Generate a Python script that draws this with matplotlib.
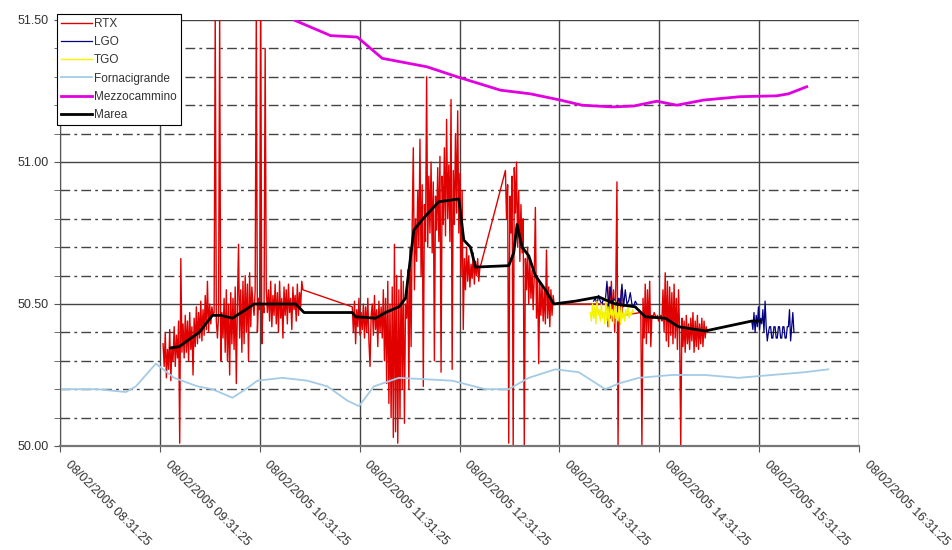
import numpy as np
import pandas as pd
import matplotlib
matplotlib.use('Agg')
import matplotlib.pyplot as plt
from matplotlib.ticker import MultipleLocator, FormatStrFormatter
from matplotlib.transforms import ScaledTranslation
import matplotlib.dates as mdates

plt.rcParams['font.family'] = ['Liberation Sans', 'DejaVu Sans']

DAY = '2005-02-08 '

# --- Marea (black) ---
marea_time = ['09:38', '09:43', '09:55', '10:03', '10:08', '10:15', '10:23', '10:28', '10:53', '10:58',
              '11:27', '11:29', '11:41', '11:47', '11:55', '11:59', '12:02', '12:04', '12:11', '12:19',
              '12:31', '12:34', '12:38', '12:41', '13:01', '13:04', '13:06', '13:09', '13:13', '13:17',
              '13:23', '13:28', '13:41', '13:55', '14:05', '14:17', '14:23', '14:35', '14:43', '14:59',
              '15:11', '15:27', '15:32']
marea_val = [50.345, 50.35, 50.40, 50.46, 50.46, 50.45, 50.48, 50.50, 50.50, 50.47,
             50.47, 50.455, 50.45, 50.47, 50.49, 50.52, 50.665, 50.76, 50.81, 50.86,
             50.87, 50.725, 50.70, 50.63, 50.635, 50.68, 50.78, 50.70, 50.67, 50.60,
             50.55, 50.50, 50.51, 50.525, 50.50, 50.49, 50.455, 50.45, 50.42, 50.405,
             50.42, 50.44, 50.44]

# --- Fornacigrande (light blue) ---
forn_time = ['08:32', '08:54', '09:11', '09:17', '09:29', '09:40', '09:54', '10:03', '10:15', '10:23',
             '10:30', '10:45', '11:00', '11:12', '11:24', '11:31', '11:40', '11:55', '12:27', '12:47',
             '13:01', '13:13', '13:29', '13:43', '13:59', '14:07', '14:19', '14:39', '14:59', '15:19',
             '15:39', '15:59', '16:13']
forn_val = [50.20, 50.20, 50.19, 50.21, 50.29, 50.24, 50.21, 50.20, 50.17, 50.20,
            50.23, 50.24, 50.23, 50.21, 50.16, 50.14, 50.21, 50.24, 50.23, 50.20,
            50.20, 50.24, 50.27, 50.26, 50.20, 50.22, 50.24, 50.25, 50.25, 50.24,
            50.25, 50.26, 50.27]

# --- Mezzocammino (magenta) ---
mezz_time = ['10:50', '10:52', '11:14', '11:30', '11:45', '12:12', '12:30', '12:56', '13:14', '13:32',
             '13:45', '14:03', '14:16', '14:30', '14:42', '14:58', '15:20', '15:42', '15:49', '16:00']
mezz_val = [51.53, 51.50, 51.445, 51.44, 51.365, 51.335, 51.30, 51.253, 51.24, 51.218,
            51.20, 51.194, 51.197, 51.214, 51.20, 51.218, 51.23, 51.233, 51.24, 51.265]

# --- RTX (red, sampled every 40 s) ---
rtx_a_start = '09:33:20'
rtx_a = [50.36, 50.28, 50.40, 50.24, 50.34, 50.27, 50.41, 50.23, 50.35,
         50.30, 50.42, 50.28, 50.39, 50.31, 50.44, 50.01, 50.66, 50.33,
         50.43, 50.31, 50.46, 50.33, 50.44, 50.30, 50.47, 50.34, 50.42,
         50.25, 50.45, 50.35, 50.49, 50.36, 50.47, 50.38, 50.51, 50.37,
         50.48, 50.39, 50.53, 50.41, 50.58, 50.40, 50.50, 50.43, 50.49,
         50.46, 50.47, 51.52, 50.44, 50.38, 50.46, 51.52, 50.30, 50.47,
         50.38, 50.52, 50.33, 50.55, 50.30, 50.50, 50.25, 50.54, 50.36,
         50.52, 50.34, 50.56, 50.22, 50.50, 50.71, 50.38, 50.55, 50.33,
         50.58, 50.36, 50.60, 50.40, 50.57, 50.30, 50.61, 50.42, 50.56,
         50.50, 50.46, 50.55, 51.52, 50.40, 50.52, 50.48, 51.52, 50.36, 50.50, 50.47, 51.40, 50.55,
         50.47, 50.55, 50.44, 50.58, 50.42, 50.53, 50.46, 50.57, 50.43,
         50.54, 50.40, 50.58, 50.45, 50.52, 50.38, 50.56, 50.46, 50.55,
         50.43, 50.57, 50.47, 50.52, 50.41, 50.56, 50.48, 50.53, 50.44,
         50.57, 50.46, 50.54, 50.49, 50.58, 50.55]
rtx_c_start = '11:27:00'
rtx_c = [50.49, 50.40, 50.51, 50.36, 50.48, 50.42, 50.52, 50.39, 50.47,
         50.41, 50.50, 50.38, 50.49, 50.40, 50.52, 50.37, 50.28, 50.46,
         50.50, 50.39, 50.53, 50.41, 50.48, 50.35, 50.51, 50.40, 50.49,
         50.38, 50.55, 50.30, 50.52, 50.22, 50.58, 50.15, 50.50, 50.10,
         50.56, 50.03, 50.71, 50.05, 50.60, 50.01, 50.55, 50.10, 50.62, 50.20, 50.58, 50.08, 50.50,
         50.45, 50.62, 50.20, 50.70, 50.35, 50.78, 51.05, 50.55, 50.80,
         50.65, 50.90, 50.70, 51.08, 50.60, 50.92, 50.21, 50.85, 50.72,
         51.30, 50.70, 50.95, 50.75, 51.00, 50.68, 50.93, 50.30, 50.88,
         50.76, 50.98, 50.72, 51.02, 50.26, 50.95, 50.78, 51.05, 50.74,
         51.15, 50.80, 50.99, 50.72, 51.22, 50.27, 50.97, 50.78, 51.10,
         50.82, 51.18, 50.75, 50.96, 50.60, 50.90,
         50.41, 50.66, 50.55, 50.70, 50.58, 50.67, 50.56, 50.64, 50.59,
         50.68, 50.57, 50.65, 50.60, 50.66, 50.58, 50.63, 50.64]
rtx_f_start = '12:59:00'
rtx_f = [50.97, 50.80, 50.92, 50.01, 50.88, 50.75, 50.95, 50.00, 50.98,
         50.82, 51.00, 50.70, 50.90, 50.65, 50.85, 50.68, 50.80, 50.00,
         50.66, 50.55, 50.70, 50.50, 50.65, 50.52, 50.62, 50.48, 50.60,
         50.84, 50.45, 50.60, 50.29, 50.58, 50.46, 50.57, 50.44, 50.55,
         50.43, 50.69, 50.45, 50.56, 50.42, 50.55, 50.46, 50.53, 50.50]
rtx_h_start = '14:00:00'
rtx_h = [50.50, 50.42, 50.56, 50.45, 50.58, 50.44, 50.55, 50.40, 50.57, 50.93, 50.00, 50.52, 50.43, 50.55, 50.46]
rtx_i_start = '14:20:20'
rtx_i = [50.47, 50.00, 50.52, 50.38, 50.57, 50.36, 50.55, 50.40, 50.58, 50.35,
         50.46, 50.45, 50.47, 50.46, 50.45, 50.46, 50.44, 50.45, 50.46,
         50.44, 50.55, 50.40, 50.61, 50.37, 50.58, 50.35, 50.56, 50.39,
         50.54, 50.36, 50.57, 50.38, 50.52, 50.34, 50.55, 50.40, 50.00,
         50.45, 50.35, 50.44, 50.33, 50.46, 50.36, 50.43, 50.34, 50.45,
         50.37, 50.47, 50.33, 50.44, 50.35, 50.46, 50.34, 50.43, 50.36,
         50.45, 50.35, 50.44, 50.38, 50.42, 50.40]

# --- TGO (yellow, every 40 s) ---
tgo_start = '13:50:00'
tgo = [50.47, 50.44, 50.50, 50.45, 50.49, 50.43, 50.51, 50.46, 50.48, 50.44,
       50.50, 50.45, 50.47, 50.43, 50.52, 50.44, 50.49, 50.42, 50.50, 50.46,
       50.48, 50.43, 50.51, 50.45, 50.47, 50.44, 50.50, 50.43, 50.49, 50.45,
       50.47, 50.44, 50.48, 50.46, 50.49, 50.45, 50.47, 50.46, 50.48, 50.47]

# --- LGO (navy) ---
lgo_a_start = '13:52:00'  # every 60 s
lgo_a = [50.51, 50.52, 50.50, 50.53, 50.51, 50.50, 50.52, 50.51, 50.58, 50.49,
         50.56, 50.50, 50.52, 50.51, 50.50, 50.52, 50.50, 50.57, 50.49, 50.55,
         50.50, 50.51, 50.54, 50.50, 50.49, 50.51, 50.50]
lgo_b_start = '15:27:00'  # every 40 s
lgo_b = [50.44, 50.41, 50.47, 50.40, 50.46, 50.42, 50.49, 50.41, 50.45, 50.43, 50.48, 50.40, 50.51, 50.42, 50.37, 50.40,
         50.42, 50.42, 50.38, 50.38, 50.42, 50.42, 50.38, 50.38, 50.42, 50.42, 50.38, 50.38, 50.42, 50.42, 50.38, 50.38,
         50.42, 50.42, 50.48, 50.37, 50.42, 50.47, 50.40]

tick_times = ['08:31:25', '09:31:25', '10:31:25', '11:31:25', '12:31:25',
              '13:31:25', '14:31:25', '15:31:25', '16:31:25']


def hm(times):
    return pd.to_datetime([DAY + t for t in times])


def seg(start, vals, step='40s'):
    return list(pd.date_range(DAY + start, periods=len(vals), freq=step))


rtx_t = (seg(rtx_a_start, rtx_a) + seg(rtx_c_start, rtx_c) + seg(rtx_f_start, rtx_f)
         + seg(rtx_h_start, rtx_h) + seg(rtx_i_start, rtx_i))
rtx_v = rtx_a + rtx_c + rtx_f + rtx_h + rtx_i

lgo_ta = seg(lgo_a_start, lgo_a, '60s')
lgo_tb = seg(lgo_b_start, lgo_b)
lgo_t = lgo_ta + [lgo_ta[-1] + pd.Timedelta('1min')] + lgo_tb
lgo_v = lgo_a + [np.nan] + lgo_b

fig = plt.figure(figsize=(9.53, 5.5), dpi=100)
ax = fig.add_axes([60 / 953, 1 - 446 / 550, (859 - 60) / 953, (446 - 20) / 550])

ax.plot(rtx_t, rtx_v, color='#e00000', lw=1.0, label='RTX')
ax.plot(lgo_t, lgo_v, color='#000080', lw=0.9, label='LGO')
ax.plot(seg(tgo_start, tgo), tgo, color='#f4f400', lw=1.0, label='TGO')
ax.plot(hm(forn_time), forn_val, color='#a4cbe6', lw=1.3, label='Fornacigrande')
ax.plot(hm(mezz_time), mezz_val, color='#e000e0', lw=2, label='Mezzocammino')
ax.plot(hm(marea_time), marea_val, color='black', lw=2, label='Marea')

ticks = pd.to_datetime([DAY + t for t in tick_times])
ax.set_xlim(ticks[0], ticks[-1])
ax.set_ylim(50.0, 51.5)
ax.set_xticks(ticks)
ax.xaxis.set_major_formatter(mdates.DateFormatter('%d/%m/%Y %H:%M:%S'))
ax.yaxis.set_major_locator(MultipleLocator(0.5))
ax.yaxis.set_minor_locator(MultipleLocator(0.1))
ax.yaxis.set_major_formatter(FormatStrFormatter('%.2f'))

ax.grid(True, which='major', axis='both', color='#444444', lw=1.0, ls='-')
ax.grid(True, which='minor', axis='y', color='#444444', lw=1.0, dashes=(7, 3, 2, 3))
ax.set_axisbelow(True)

for s in ['top', 'right']:
    ax.spines[s].set_visible(False)
ax.spines['left'].set_color('#555555')
ax.spines['bottom'].set_color('#777777')
ax.spines['bottom'].set_linewidth(1.6)

ax.tick_params(axis='y', which='both', length=4, color='#555555', labelsize=9, labelcolor='#333333', pad=4)
ax.tick_params(axis='x', length=4, color='#555555', labelsize=9, labelcolor='#333333', pad=5)
for lab in ax.get_xticklabels():
    lab.set_rotation(-45)
    lab.set_ha('left')
    lab.set_va('top')
    lab.set_rotation_mode('anchor')
    lab.set_transform(lab.get_transform() + ScaledTranslation(11 / 100, 0, fig.dpi_scale_trans))

leg = fig.legend(loc='upper left', bbox_to_anchor=(57 / 953, 1 - 14 / 550), borderaxespad=0,
                 fontsize=8.5, frameon=True, fancybox=False, framealpha=1, edgecolor='black',
                 handlelength=2.6, handletextpad=0.2, labelspacing=0.52, borderpad=0.35)
leg.get_frame().set_linewidth(0.8)
for t in leg.get_texts():
    t.set_color('#333333')

fig.savefig('out.png', dpi=100)
